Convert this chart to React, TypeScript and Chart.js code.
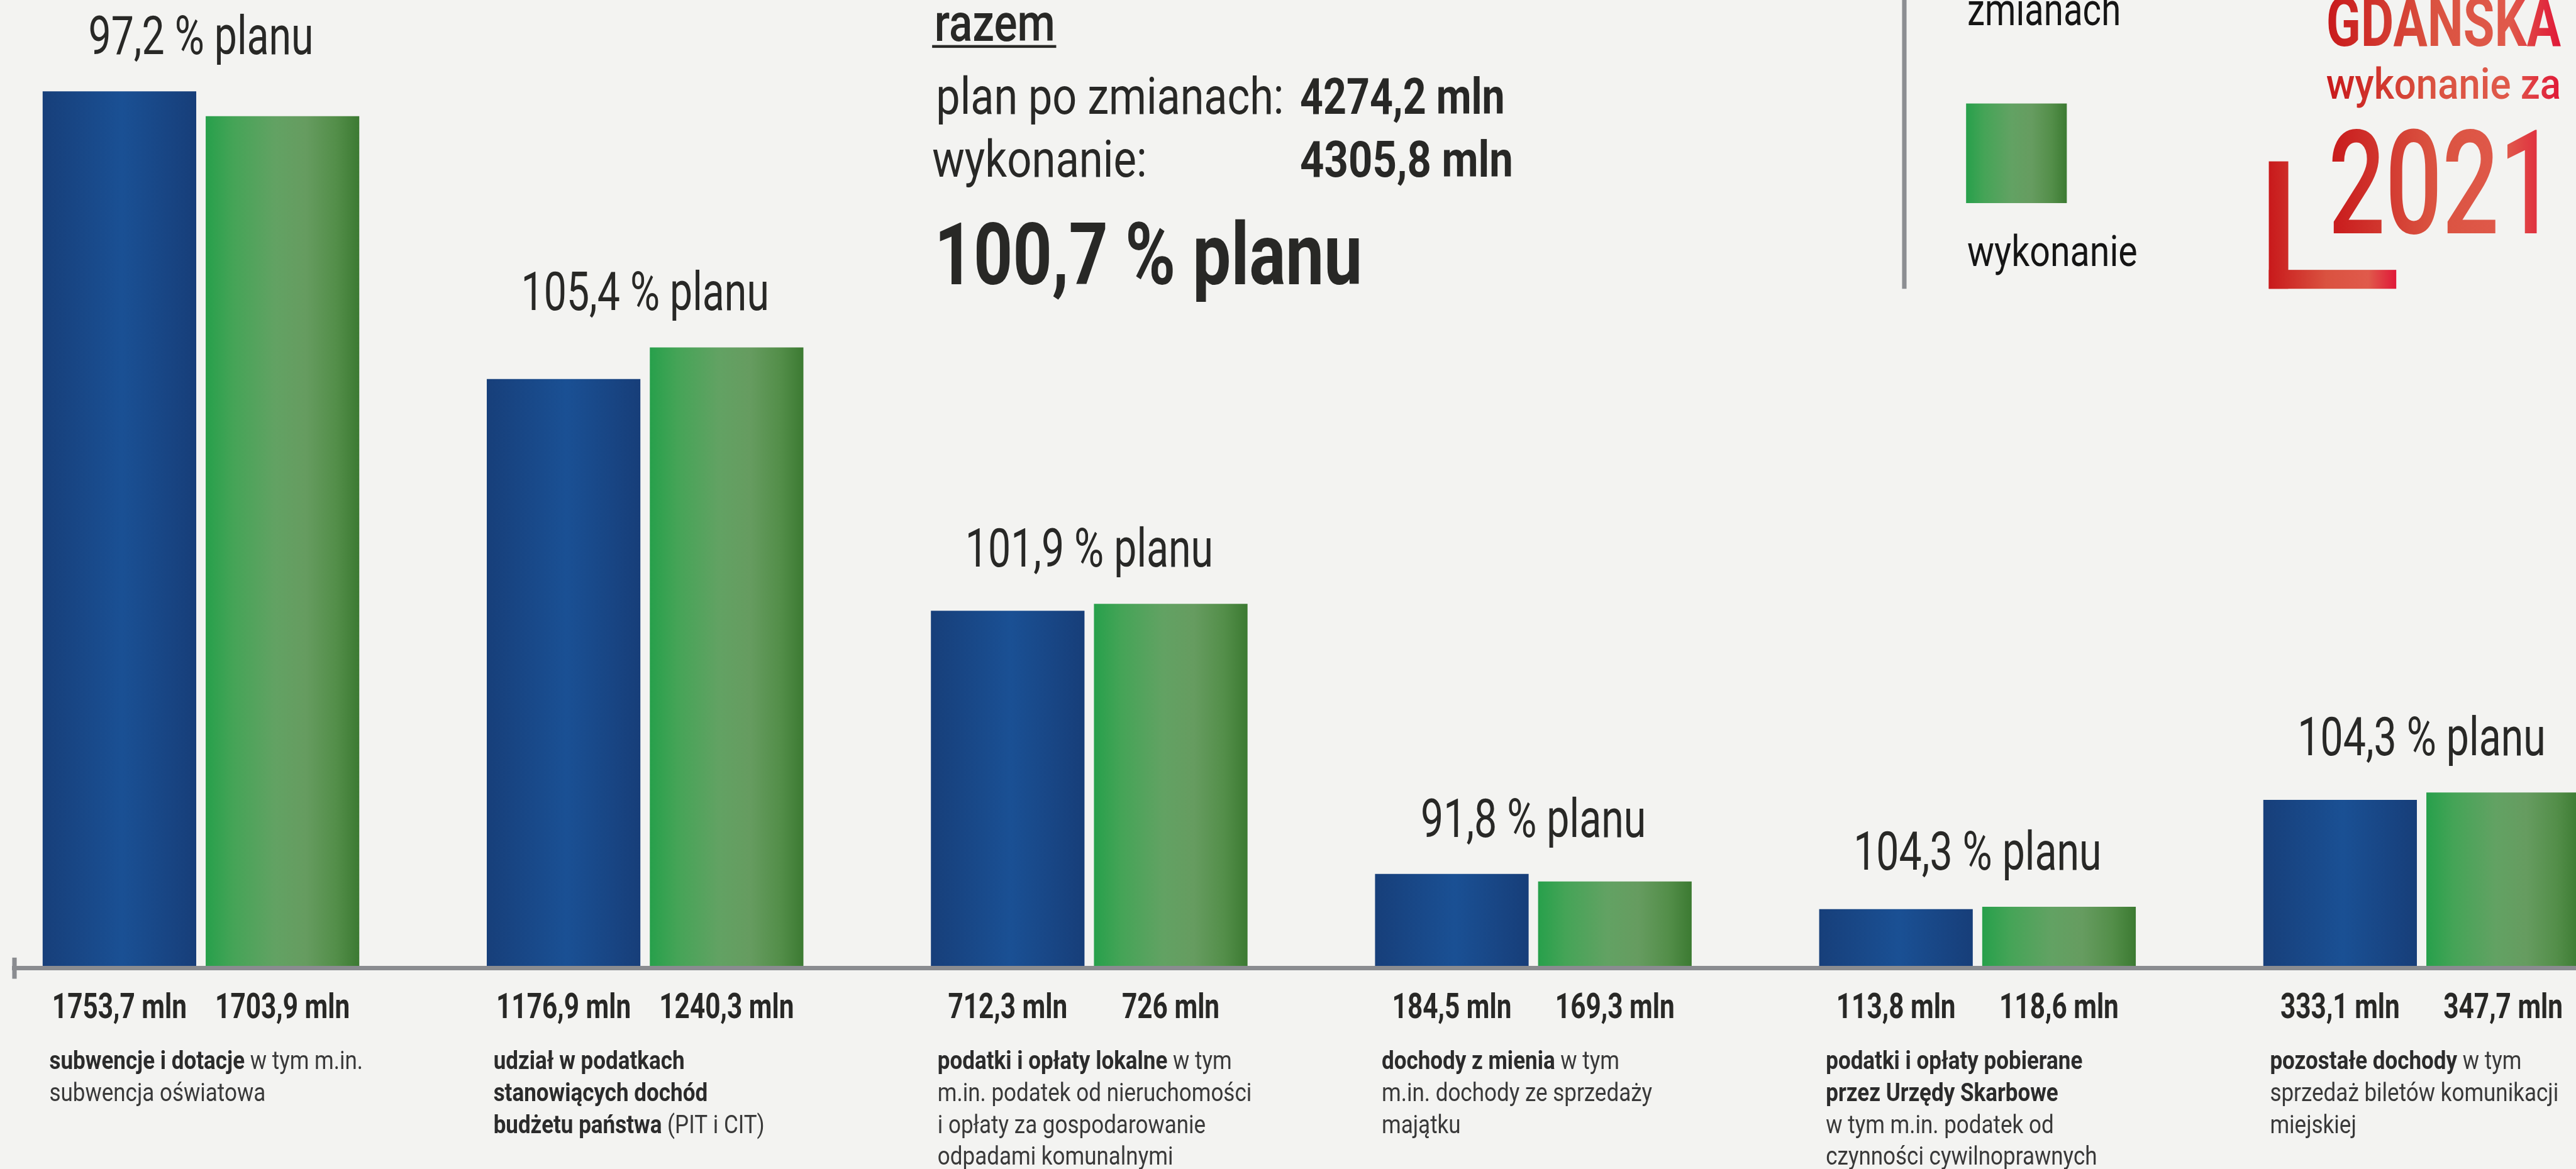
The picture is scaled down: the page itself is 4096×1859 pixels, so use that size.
import React, { useEffect, useRef } from 'react';
import { Chart, registerables } from 'chart.js';

Chart.register(...registerables);

// ---------------- data ----------------
const categories: string[][] = [
  ['**subwencje i dotacje** w tym m.in.', 'subwencja oświatowa'],
  ['**udział w podatkach**', '**stanowiących dochód**', '**budżetu państwa** (PIT i CIT)'],
  ['**podatki i opłaty lokalne** w tym', 'm.in. podatek od nieruchomości', 'i opłaty za gospodarowanie', 'odpadami komunalnymi'],
  ['**dochody z mienia** w tym', 'm.in. dochody ze sprzedaży', 'majątku'],
  ['**podatki i opłaty pobierane**', '**przez Urzędy Skarbowe**', 'w tym m.in. podatek od', 'czynności cywilnoprawnych'],
  ['**pozostałe dochody** w tym', 'sprzedaż biletów komunikacji', 'miejskiej'],
];
const planValues = [1753.7, 1176.9, 712.3, 184.5, 113.8, 333.1];
const executionValues = [1703.9, 1240.3, 726, 169.3, 118.6, 347.7];
const percentLabels = ['97,2', '105,4', '101,9', '91,8', '104,3', '104,3'];
const seriesNames = ['plan po zmianach', 'wykonanie'];
const summaryTitle = 'razem';
const totalPlan = 4274.2;
const totalExecution = 4305.8;
const totalPercent = '100,7';
const logoTitle = 'GDAŃSKA';
const logoSubtitle = 'wykonanie za';
const logoYear = '2021';

// ---------------- layout / style ----------------
const W = 4096;
const H = 1859;
const S = W / 4629; // reference px -> window px
const BG = '#f3f3f1';
const TEXT = '#282826';
const FONT = 'Roboto, "Noto Sans", sans-serif';
const AXIS = '#8a8c90';
const Y_MAX = 1937;
const Y_MIN = -4.46;
const X_MIN = -0.4199;
const X_MAX = 5.3476;

const BLUE_STOPS: [number, string][] = [[0, '#173f7a'], [0.52, '#1a5094'], [1, '#173e79']];
const GREEN_STOPS: [number, string][] = [[0, '#27a04b'], [0.18, '#45a457'], [0.45, '#62a263'], [0.65, '#669c60'], [0.85, '#538e49'], [1, '#3c7a32']];
const RED_STOPS: [number, string][] = [[0, '#c8191b'], [0.45, '#da5240'], [0.78, '#e05a4b'], [1, '#e01838']];

const fmt = (v: number) => String(v).replace('.', ',');

function grad(ctx: CanvasRenderingContext2D, x0: number, x1: number, stops: [number, string][]) {
  const g = ctx.createLinearGradient(x0, 0, x1, 0);
  stops.forEach(([o, c]) => g.addColorStop(o, c));
  return g;
}

function measure(ctx: CanvasRenderingContext2D, text: string, size: number, weight: number) {
  ctx.save();
  ctx.font = `${weight} ${size}px ${FONT}`;
  const w = ctx.measureText(text).width;
  ctx.restore();
  return w;
}

function txt(
  ctx: CanvasRenderingContext2D, text: string, x: number, y: number, size: number, weight: number,
  fill: any, sx: number, align: CanvasTextAlign = 'left'
) {
  ctx.save();
  ctx.font = `${weight} ${size}px ${FONT}`;
  ctx.textAlign = align;
  ctx.textBaseline = 'alphabetic';
  ctx.translate(x, y);
  ctx.scale(sx, 1);
  ctx.fillStyle = typeof fill === 'function' ? fill(ctx, ctx.measureText(text).width) : fill;
  ctx.fillText(text, 0, 0);
  ctx.restore();
}

// text squeezed to a given width (reference px)
function fitted(ctx: CanvasRenderingContext2D, text: string, x: number, y: number, size: number, weight: number, fill: any, width: number) {
  const w = measure(ctx, text, size * S, weight);
  txt(ctx, text, x * S, y * S, size * S, weight, fill, (width * S) / w);
}

const redFill = (c: CanvasRenderingContext2D, w: number) => grad(c, 0, w, RED_STOPS);

function richLine(ctx: CanvasRenderingContext2D, line: string, x: number, y: number, size: number, sx: number) {
  const parts = line.split(/(\*\*[^*]+\*\*)/).filter(Boolean);
  let cx = x;
  for (const p of parts) {
    const bold = p.startsWith('**');
    const t = bold ? p.slice(2, -2) : p;
    const wt = bold ? 700 : 400;
    txt(ctx, t, cx, y, size, wt, bold ? '#2b2b2b' : '#393939', sx);
    cx += measure(ctx, t, size, wt) * sx;
  }
}

const barGradientPlugin = {
  id: 'barGradient',
  beforeDatasetsDraw(chart: any) {
    const ctx = chart.ctx;
    chart.data.datasets.forEach((_: any, di: number) => {
      const meta = chart.getDatasetMeta(di);
      meta.data.forEach((el: any) => {
        const l = el.x - el.width / 2;
        const r = el.x + el.width / 2;
        el.options = Object.assign({}, el.options, { backgroundColor: grad(ctx, l, r, di === 0 ? BLUE_STOPS : GREEN_STOPS) });
      });
    });
  },
};

const annotationPlugin = {
  id: 'annotations',
  afterDraw(chart: any) {
    const ctx: CanvasRenderingContext2D = chart.ctx;
    const xs = chart.scales.x;
    const m0 = chart.getDatasetMeta(0);
    const m1 = chart.getDatasetMeta(1);

    // small tick at axis start
    ctx.save();
    ctx.fillStyle = AXIS;
    ctx.fillRect(22 * S, 1721 * S, 8 * S, 38 * S);
    ctx.restore();

    for (let i = 0; i < planValues.length; i++) {
      const b0 = m0.data[i];
      const b1 = m1.data[i];
      const top = Math.min(b0.y, b1.y);
      const cx = xs.getPixelForValue(i);
      txt(ctx, `${percentLabels[i]} % planu`, cx, top - 67 * S, 97 * S, 400, TEXT, 0.75, 'center');
      txt(ctx, `${fmt(planValues[i])} mln`, b0.x, 1830 * S, 63 * S, 700, TEXT, 0.76, 'center');
      txt(ctx, `${fmt(executionValues[i])} mln`, b1.x, 1830 * S, 63 * S, 700, TEXT, 0.76, 'center');
      const left = b0.x - b0.width / 2 + 12 * S;
      categories[i].forEach((line, k) => {
        richLine(ctx, line, left, (1921 + k * 57.5) * S, 46 * S, 0.86);
      });
    }

    // summary block
    fitted(ctx, summaryTitle, 1679, 73, 95, 500, TEXT, 217);
    ctx.save();
    ctx.fillStyle = TEXT;
    ctx.fillRect(1675 * S, 81 * S, 223 * S, 5 * S);
    ctx.restore();
    fitted(ctx, `${seriesNames[0]}:`, 1682, 204, 93, 400, TEXT, 625);
    fitted(ctx, `${fmt(totalPlan)} mln`, 2336, 204, 90, 700, TEXT, 368);
    fitted(ctx, `${seriesNames[1]}:`, 1675, 318, 93, 400, TEXT, 386);
    fitted(ctx, `${fmt(totalExecution)} mln`, 2336, 318, 90, 700, TEXT, 383);
    fitted(ctx, `${totalPercent} % planu`, 1679, 511, 156, 700, TEXT, 769);

    // legend
    ctx.save();
    ctx.fillStyle = '#8c8e92';
    ctx.fillRect(3418 * S, 0, 8 * S, 519 * S);
    ctx.fillStyle = grad(ctx, 3533 * S, 3714 * S, GREEN_STOPS);
    ctx.fillRect(3533 * S, 186 * S, 181 * S, 179 * S);
    ctx.restore();
    const legendWords = seriesNames[0].split(' ');
    fitted(ctx, legendWords[legendWords.length - 1], 3535, 45, 81, 400, '#151515', 276);
    fitted(ctx, seriesNames[1], 3535, 478, 78, 400, '#151515', 306);

    // logo
    fitted(ctx, logoTitle, 4180, 82, 124, 700, redFill, 422);
    fitted(ctx, logoSubtitle, 4180, 177, 78, 500, redFill, 422);
    fitted(ctx, logoYear, 4184, 419, 260, 500, redFill, 409);
    ctx.save();
    ctx.fillStyle = grad(ctx, 4077 * S, 4306 * S, RED_STOPS);
    ctx.fillRect(4077 * S, 290 * S, 35 * S, 229 * S);
    ctx.fillRect(4077 * S, 485 * S, 229 * S, 34 * S);
    ctx.restore();
  },
};

export default function App() {
  const ref = useRef<HTMLCanvasElement | null>(null);
  useEffect(() => {
    const canvas = ref.current;
    if (!canvas) return;
    const chart = new Chart(canvas, {
      type: 'bar',
      data: {
        datasets: [
          {
            label: seriesNames[0],
            data: planValues.map((v, i) => ({ x: i, y: v })),
            backgroundColor: '#1a4a8a',
            borderWidth: 0,
            categoryPercentage: 0.7342,
            barPercentage: 0.942,
          },
          {
            label: seriesNames[1],
            data: executionValues.map((v, i) => ({ x: i, y: v })),
            backgroundColor: '#559a58',
            borderWidth: 0,
            categoryPercentage: 0.7342,
            barPercentage: 0.942,
          },
        ],
      },
      options: {
        animation: false,
        responsive: false,
        maintainAspectRatio: false,
        devicePixelRatio: 1,
        events: [],
        layout: { padding: { left: 26 * S, right: 0, top: 0, bottom: H - 1740 * S } },
        plugins: {
          legend: { display: false },
          tooltip: { enabled: false },
          title: { display: false },
        },
        scales: {
          x: {
            type: 'linear',
            offset: false,
            min: X_MIN,
            max: X_MAX,
            bounds: 'data',
            afterBuildTicks: (axis: any) => {
              axis.ticks = planValues.map((_, i) => ({ value: i }));
            },
            grid: { display: false, drawTicks: false, offset: false },
            ticks: { display: false },
            border: { display: true, color: AXIS, width: 8 * S },
          },
          y: {
            display: false,
            min: Y_MIN,
            max: Y_MAX,
          },
        },
      } as any,
      plugins: [barGradientPlugin, annotationPlugin],
    });
    const fonts: any = (document as any).fonts;
    if (fonts && fonts.load) {
      Promise.all([fonts.load(`400 40px Roboto`), fonts.load(`700 40px Roboto`), fonts.load(`500 40px Roboto`)])
        .then(() => chart.update())
        .catch(() => {});
    }
    return () => chart.destroy();
  }, []);

  return (
    <div style={{ position: 'fixed', left: 0, top: 0, width: W, height: H, background: BG, overflow: 'hidden' }}>
      <canvas ref={ref} width={W} height={H} style={{ display: 'block', width: W, height: H }} />
    </div>
  );
}
